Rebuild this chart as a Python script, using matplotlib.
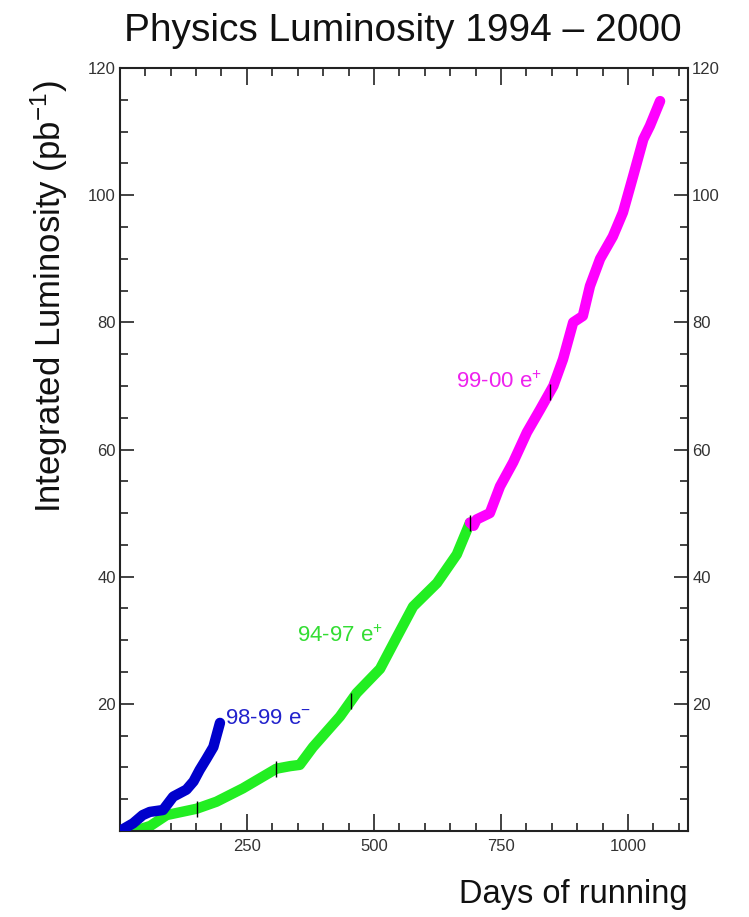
import numpy as np
import matplotlib
matplotlib.use("Agg")
import matplotlib.pyplot as plt
from matplotlib.ticker import MultipleLocator, FixedLocator

plt.rcParams['font.family'] = ['Liberation Sans', 'DejaVu Sans']
plt.rcParams['mathtext.fontset'] = 'custom'
plt.rcParams['mathtext.rm'] = 'Liberation Sans'
plt.rcParams['mathtext.it'] = 'Liberation Sans'

# integrated luminosity (pb^-1) versus days of running
days_9899 = [0, 26, 45, 59, 85, 105, 131, 145, 157, 170, 184, 197]
lumi_9899 = [0, 1.2, 2.5, 3.0, 3.3, 5.4, 6.5, 7.8, 9.6, 11.3, 13.2, 17.0]

days_9497 = [0, 33, 60, 92, 151, 190, 242, 308, 335, 354, 380, 433, 466,
             512, 545, 577, 624, 663, 689]
lumi_9497 = [0, 0.1, 0.8, 2.5, 3.5, 4.6, 6.7, 9.8, 10.2, 10.4, 13.2, 18.0,
             21.7, 25.5, 30.5, 35.3, 39.0, 43.5, 48.5]

days_9900 = [689, 696, 702, 728, 748, 774, 801, 827, 853, 872, 892, 911,
             925, 945, 970, 990, 1010, 1030, 1043, 1063]
lumi_9900 = [48.5, 48.0, 49.0, 50.0, 54.2, 58.0, 62.7, 66.3, 70.0, 74.2,
             80.0, 81.0, 85.7, 90.0, 93.5, 97.3, 103.0, 108.8, 110.9, 114.8]

# year boundaries marked on the curves
marks_9497 = [151, 308, 455]
marks_9900 = [689, 846]

fig = plt.figure(figsize=(7.49, 9.17), dpi=100)
ax = fig.add_axes([0.160, 0.0938, 0.7586, 0.832])

lw = 7.5
style = dict(lw=lw, solid_capstyle='round', solid_joinstyle='round')
ax.plot(days_9497, lumi_9497, color='#22ee22', zorder=2, **style)
ax.plot(days_9900, lumi_9900, color='#ff00ff', zorder=2, **style)
ax.plot(days_9899, lumi_9899, color='#0000cc', zorder=3, **style)

ax.plot(marks_9497, np.interp(marks_9497, days_9497, lumi_9497), '|',
        color='black', ms=12, mew=1.0, zorder=4)
ax.plot(marks_9900, np.interp(marks_9900, days_9900, lumi_9900), '|',
        color='black', ms=12, mew=1.0, zorder=4)

ax.text(207, 16.8, r'98-99 e$^{-}$', color='#2222cc', fontsize=16, ha='left', va='baseline')
ax.text(348, 29.8, r'94-97 e$^{+}$', color='#33dd33', fontsize=16, ha='left', va='baseline')
ax.text(661, 69.6, r'99-00 e$^{+}$', color='#ee22ee', fontsize=16, ha='left', va='baseline')

ax.set_xlim(0, 1118)
ax.set_ylim(0, 120)

ax.xaxis.set_major_locator(FixedLocator([250, 500, 750, 1000]))
ax.xaxis.set_minor_locator(MultipleLocator(50))
ax.yaxis.set_major_locator(FixedLocator([20, 40, 60, 80, 100, 120]))
ax.yaxis.set_minor_locator(MultipleLocator(5))

ax.tick_params(which='both', direction='in', top=True, right=True,
               labelright=True, width=1.2, colors='#222222', labelsize=12,
               labelcolor='#333333')
ax.tick_params(which='major', length=12, pad=6)
ax.tick_params(which='minor', length=6)
ax.tick_params(axis='y', which='major', length=10, pad=3)
for s in ax.spines.values():
    s.set_linewidth(1.5)
    s.set_color('#222222')

fig.text(0.538, 0.966, 'Physics Luminosity 1994 \u2013 2000', fontsize=28,
         ha='center', va='center', color='#111111')
fig.text(0.918, 0.024, 'Days of running', fontsize=23.5, ha='right',
         va='center', color='#111111')
fig.text(0.066, 0.676, r'Integrated Luminosity (pb$^{-1}$)', fontsize=25,
         rotation=90, ha='center', va='center', color='#111111')

fig.savefig('out.png', dpi=100, facecolor='white')
